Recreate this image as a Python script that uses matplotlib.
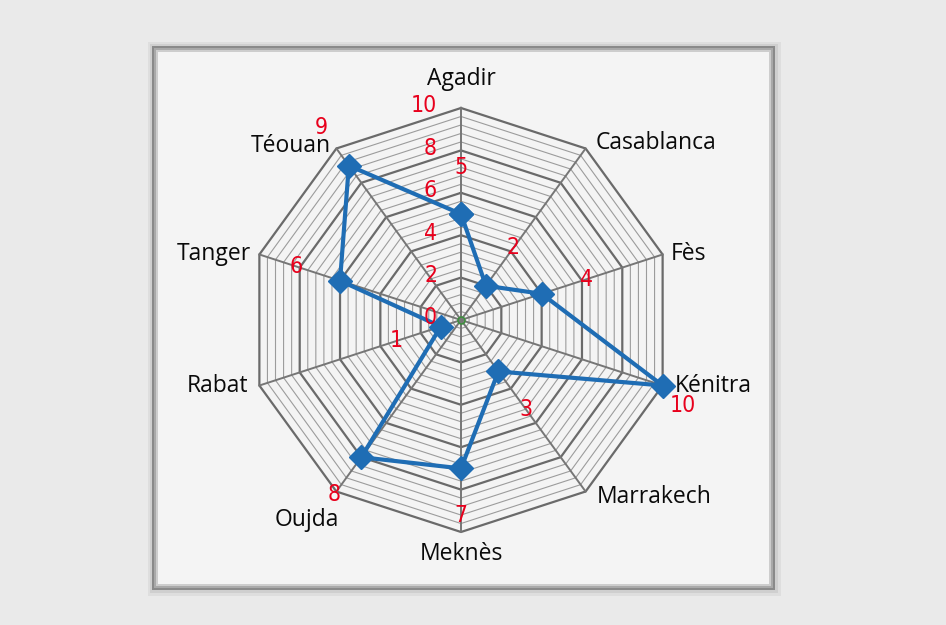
import numpy as np
import matplotlib.pyplot as plt
from matplotlib.patches import Rectangle

cities = ['Agadir', 'Casablanca', 'Fès', 'Kénitra', 'Marrakech',
          'Meknès', 'Oujda', 'Rabat', 'Tanger', 'Téouan']
scores = [5, 2, 4, 10, 3, 7, 8, 1, 6, 9]
ticks = [0, 2, 4, 6, 8, 10]

RMAX = 10
UNIT = 21.2  # pixels per unit of the radial scale
RED = '#e8001c'
NUM_FONT = dict(family='DejaVu Sans', fontstretch='condensed', fontsize=16.5)

# label offsets (points) from the outer vertex of each spoke
label_pos = {
    'Agadir': (0, 12, 'center', 'bottom'),
    'Casablanca': (7, 4, 'left', 'center'),
    'Fès': (6, 0, 'left', 'center'),
    'Kénitra': (9, 0, 'left', 'center'),
    'Marrakech': (8, -4, 'left', 'center'),
    'Meknès': (0, -7, 'center', 'top'),
    'Oujda': (2, -12, 'right', 'top'),
    'Rabat': (-8, 0, 'right', 'center'),
    'Tanger': (-6, 0, 'right', 'center'),
    'Téouan': (-4, 2, 'right', 'center'),
}

theta = np.deg2rad(90 - 36 * np.arange(len(cities)))
cx, cy = np.cos(theta), np.sin(theta)

fig = plt.figure(figsize=(9.46, 6.25), dpi=100, facecolor='#eaeaea')

# framed panel behind the chart
W, H = 946, 625
def px_rect(x0, y0, x1, y1, **kw):
    r = Rectangle((x0 / W, 1 - y1 / H), (x1 - x0) / W, (y1 - y0) / H,
                  transform=fig.transFigure, zorder=-10, **kw)
    fig.patches.append(r)

px_rect(148, 42, 781, 596, facecolor='#dedede', edgecolor='none')
px_rect(150, 44, 778, 593, facecolor='#cfcfcf', edgecolor='none')
px_rect(152, 46, 775, 590, facecolor='#8a8a8a', edgecolor='none')
px_rect(154, 48, 773, 588, facecolor='#a9a9a9', edgecolor='none')
px_rect(156, 50, 771, 586, facecolor='#cdcdcd', edgecolor='none')
px_rect(158, 52, 769, 584, facecolor='#f4f4f4', edgecolor='none')

half = 250 / UNIT
ax = fig.add_axes([211 / W, 55 / H, 500 / W, 500 / H])
ax.set_xlim(-half, half)
ax.set_ylim(-half, half)
ax.set_aspect('equal')
ax.axis('off')

# concentric decagon rings, minor every 0.4, major every 2
levels = np.round(np.arange(0.4, RMAX + 0.01, 0.4), 2)
for lv in levels:
    xs = np.append(lv * cx, lv * cx[0])
    ys = np.append(lv * cy, lv * cy[0])
    if lv % 2 == 0:
        ax.plot(xs, ys, color='#6a6a6a', lw=1.6, zorder=2)
    else:
        ax.plot(xs, ys, color='#9c9c9c', lw=0.8, zorder=1)

# spokes
for x, y in zip(cx, cy):
    ax.plot([0, RMAX * x], [0, RMAX * y], color='#767676', lw=1.4, zorder=2)

# radial tick labels along the first spoke
for t in ticks:
    ax.text(-24 / UNIT, t + 0.1, str(t), color=RED, ha='right', va='center',
            zorder=5, **NUM_FONT)

# data series
vals = np.array(scores, dtype=float)
ax.plot(np.append(vals * cx, vals[0] * cx[0]), np.append(vals * cy, vals[0] * cy[0]),
        color='#1f6db4', lw=3, marker='D', ms=12, zorder=4)
ax.plot(0, 0, marker='o', ms=5, mfc='none', mec='#3e8f3e', mew=1.2, zorder=5)

# value labels, pushed a little outward from each point
for v, t in zip(scores, theta):
    r = min(v + 2.2, 11.2)
    a = t - np.deg2rad(3) if v == RMAX else t
    ax.text(r * np.cos(a), r * np.sin(a), str(v), color=RED, ha='center',
            va='center', zorder=5, **NUM_FONT)

# city labels
for name, x, y in zip(cities, cx, cy):
    dx, dy, ha, va = label_pos[name]
    ax.annotate(name, (RMAX * x, RMAX * y), xytext=(dx, dy), textcoords='offset points',
                ha=ha, va=va, fontsize=16.5, family='Open Sans', color='#0a0a0a',
                annotation_clip=False, zorder=6)

fig.savefig('out.png', dpi=100, facecolor=fig.get_facecolor())
